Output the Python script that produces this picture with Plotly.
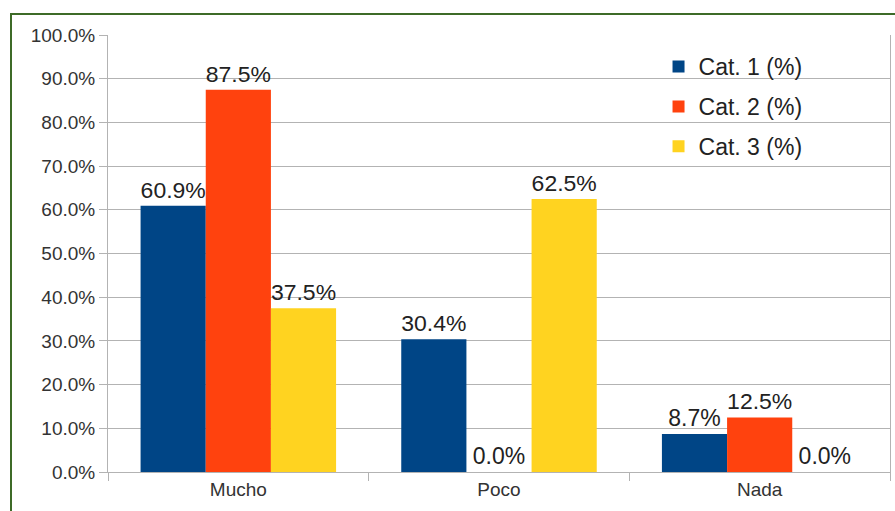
import plotly.graph_objects as go

categories = ["Mucho", "Poco", "Nada"]
series_names = ["Cat. 1 (%)", "Cat. 2 (%)", "Cat. 3 (%)"]
cat1 = [0.609, 0.304, 0.087]
cat2 = [0.875, 0.0, 0.125]
cat3 = [0.375, 0.625, 0.0]
colors = ["#004586", "#ff420e", "#ffd320"]

fig = go.Figure()
for i, (name, vals) in enumerate(zip(series_names, [cat1, cat2, cat3])):
    fig.add_trace(go.Bar(
        x=categories, y=vals, name=name, legendgroup=name,
        marker=dict(color=colors[i], line=dict(width=0)),
        text=[f"{v*100:.1f}%" for v in vals],
        textposition="outside", cliponaxis=False,
        textfont=dict(size=23, color="#222222", family="Liberation Sans"),
    ))

fig.update_layout(
    width=895, height=511,
    margin=dict(l=108, r=5, t=35, b=39),
    paper_bgcolor="white", plot_bgcolor="white",
    barmode="group", bargap=0.25, bargroupgap=0,
    font=dict(family="Liberation Sans", color="#333333"),
    showlegend=True,
    legend=dict(
        x=0.704, y=0.977, xanchor="left", yanchor="top",
        bgcolor="rgba(255,255,255,0)", borderwidth=0,
        font=dict(size=23, color="#222222", family="Liberation Sans"),
        tracegroupgap=7,
    ),
    xaxis=dict(
        type="category", showgrid=False, showline=True, linecolor="#b3b3b3", linewidth=1,
        ticks="outside", tickson="boundaries", ticklen=8, tickcolor="#b3b3b3",
        tickfont=dict(size=19, color="#333333"),
    ),
    yaxis=dict(
        range=[0, 1], dtick=0.1, tickformat=".1%",
        showgrid=True, gridcolor="#b3b3b3", gridwidth=1,
        showline=True, linecolor="#b3b3b3", linewidth=1, mirror=True,
        ticks="outside", ticklen=8, tickcolor="#b3b3b3",
        tickfont=dict(size=19, color="#333333"),
        zeroline=False,
    ),
    shapes=[
        dict(
            type="rect", xref="paper", yref="paper",
            x0=(11 - 108) / 782, x1=1.05, y0=-0.3, y1=(472 - 14) / 437,
            line=dict(color="#3d6b28", width=2), fillcolor="rgba(0,0,0,0)", layer="below",
        ),
        dict(
            type="rect", xref="paper", yref="paper",
            x0=(623 - 108) / 782, x1=(848 - 108) / 782,
            y0=(472 - 185) / 437, y1=(472 - 45) / 437,
            line=dict(width=0), fillcolor="white", layer="between",
        ),
    ],
)

fig.write_html("out.html")
